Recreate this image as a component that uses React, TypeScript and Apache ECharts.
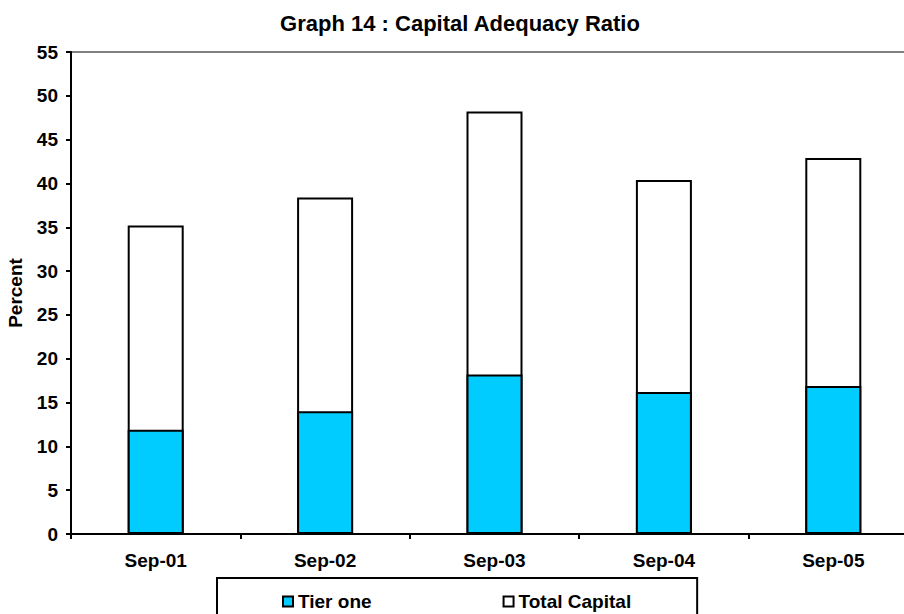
import React, { useEffect, useRef } from "react";
import * as echarts from "echarts";

const categories = ["Sep-01", "Sep-02", "Sep-03", "Sep-04", "Sep-05"];
const tierOne = [11.9, 14.0, 18.2, 16.2, 16.9];
const totalCapital = [35.2, 38.4, 48.2, 40.4, 42.9];
const yTicks = { min: 0, max: 55, interval: 5 };

const FONT = "Liberation Sans, Arial, sans-serif";

export default function App() {
  const ref = useRef<HTMLDivElement>(null);
  useEffect(() => {
    document.body.style.margin = "0";
    if (!ref.current) return;
    const chart = echarts.init(ref.current, null, { renderer: "svg" });
    chart.setOption({
      animation: false,
      backgroundColor: "#ffffff",
      title: {
        text: "Graph 14 : Capital Adequacy Ratio",
        left: 455,
        top: 7,
        textAlign: "center",
        textStyle: { fontFamily: FONT, fontWeight: "bold", fontSize: 22, color: "#000" },
      },
      grid: {
        left: 71,
        top: 52,
        width: 847,
        height: 482,
        containLabel: false,
        outerBoundsMode: "none",
        show: true,
        borderColor: "#808080",
        borderWidth: 2,
        backgroundColor: "transparent",
      },
      legend: {
        data: ["Tier one", "Total Capital"],
        left: 217,
        top: 578,
        padding: [14, 66, 20, 65],
        itemGap: 131,
        itemWidth: 10,
        itemHeight: 10,
        icon: "rect",
        borderColor: "#000",
        borderWidth: 2,
        textStyle: { fontFamily: FONT, fontWeight: "bold", fontSize: 19, color: "#000" },
      },
      xAxis: {
        type: "category",
        data: categories,
        boundaryGap: true,
        axisLine: { lineStyle: { color: "#000", width: 2 } },
        axisTick: { show: true, length: 5, interval: 0, lineStyle: { color: "#000", width: 2 } },
        axisLabel: { margin: 17, fontFamily: FONT, fontWeight: "bold", fontSize: 19, color: "#000" },
        splitLine: { show: false },
      },
      yAxis: {
        type: "value",
        min: yTicks.min,
        max: yTicks.max,
        interval: yTicks.interval,
        name: "Percent",
        nameLocation: "middle",
        nameGap: 46,
        nameTextStyle: { fontFamily: FONT, fontWeight: "bold", fontSize: 19, color: "#000" },
        axisLine: { show: true, lineStyle: { color: "#000", width: 2 } },
        axisTick: { show: true, length: 5, lineStyle: { color: "#000", width: 2 } },
        axisLabel: { margin: 13, fontFamily: FONT, fontWeight: "bold", fontSize: 19, color: "#000" },
        splitLine: { show: false },
      },
      series: [
        {
          name: "Total Capital",
          type: "bar",
          data: totalCapital,
          barWidth: 56,
          barGap: "-100%",
          itemStyle: { color: "#ffffff", borderColor: "#000", borderWidth: 2 },
        },
        {
          name: "Tier one",
          type: "bar",
          data: tierOne,
          barWidth: 56,
          barGap: "-100%",
          itemStyle: { color: "#00CCFF", borderColor: "#000", borderWidth: 2 },
        },
      ],
    });
    return () => chart.dispose();
  }, []);
  return <div ref={ref} style={{ width: 904, height: 614 }} />;
}
